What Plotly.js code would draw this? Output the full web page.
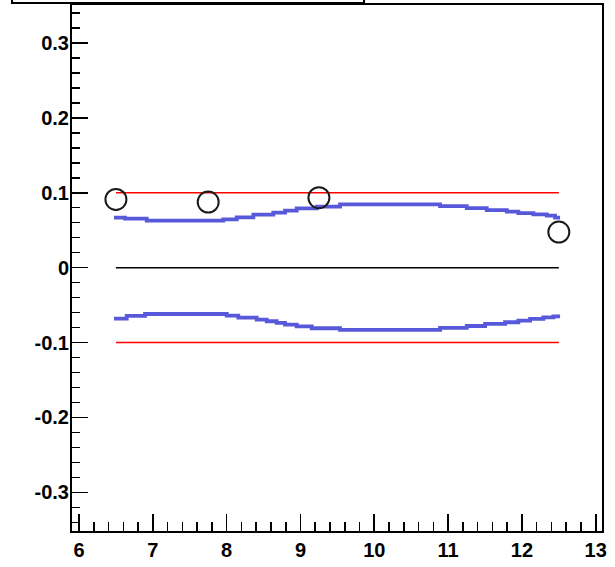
<!DOCTYPE html>
<html>
<head>
<meta charset="utf-8">
<script src="https://cdn.plot.ly/plotly-3.0.1.min.js"></script>
<style>html,body{margin:0;padding:0;background:#fff;}#chart{width:615px;height:567px;}</style>
</head>
<body>
<div id="chart"></div>
<script>
// Measured points (open circles)
const pointX = [6.5, 7.75, 9.25, 12.5];
const pointY = [0.091, 0.0875, 0.0933, 0.0475];

// Upper blue band (step line): start of each step, last x is the end
const upperX = [6.474, 6.623, 6.917, 7.955, 8.137, 8.362, 8.632, 8.791, 8.949, 9.220, 9.536, 10.891, 11.253, 11.524, 11.795, 11.952, 12.155, 12.337, 12.449, 12.517];
const upperY = [0.0667, 0.0653, 0.0627, 0.0644, 0.0671, 0.0707, 0.0733, 0.0760, 0.0791, 0.0813, 0.0844, 0.0821, 0.0795, 0.0768, 0.0747, 0.0728, 0.0711, 0.0693, 0.0667, 0.0667];

// Lower blue band
const lowerX = [6.474, 6.646, 6.894, 8.001, 8.158, 8.407, 8.543, 8.678, 8.791, 8.949, 9.152, 9.536, 10.891, 11.253, 11.501, 11.772, 11.952, 12.111, 12.291, 12.427, 12.517];
const lowerY = [-0.068, -0.0645, -0.0619, -0.064, -0.0667, -0.0693, -0.0716, -0.0738, -0.076, -0.0783, -0.0809, -0.0832, -0.0805, -0.0779, -0.0752, -0.0729, -0.0707, -0.0685, -0.0663, -0.065, -0.065];

// Reference lines
const refX = [6.5, 12.5];
const redUpper = [0.1, 0.1];
const redLower = [-0.1, -0.1];
const zeroLine = [0, 0];

// Tick labels
const xTickVals = [6, 7, 8, 9, 10, 11, 12, 13];
const xTickText = ["6", "7", "8", "9", "10", "11", "12", "13"];
const yTickVals = [-0.3, -0.2, -0.1, 0, 0.1, 0.2, 0.3];
const yTickText = ["-0.3", "-0.2", "-0.1", "0", "0.1", "0.2", "0.3"];

const blue = 'rgb(88,88,218)';
const traces = [
  {x: refX, y: redUpper, mode: 'lines', line: {color: '#ff0000', width: 1.5}, hoverinfo: 'skip'},
  {x: refX, y: redLower, mode: 'lines', line: {color: '#ff0000', width: 1.5}, hoverinfo: 'skip'},
  {x: refX, y: zeroLine, mode: 'lines', line: {color: '#000000', width: 1.5}, hoverinfo: 'skip'},
  {x: upperX, y: upperY, mode: 'lines', line: {color: blue, width: 3.8, shape: 'hv'}},
  {x: lowerX, y: lowerY, mode: 'lines', line: {color: blue, width: 3.8, shape: 'hv'}},
  {x: pointX, y: pointY, mode: 'markers', marker: {symbol: 'circle-open', size: 21, color: '#1a1a1a', line: {width: 2, color: '#1a1a1a'}}}
];

const tf = {family: 'Arial, Liberation Sans, sans-serif', size: 20, color: '#000', weight: 700};

const layout = {
  width: 615, height: 567,
  margin: {l: 72, r: 13, t: 5, b: 36, pad: 0, autoexpand: false},
  paper_bgcolor: '#fff', plot_bgcolor: '#fff',
  showlegend: false,
  font: {family: 'Arial, Liberation Sans, sans-serif', size: 20, color: '#000'},
  xaxis: {
    range: [5.905, 13.085], automargin: false,
    showgrid: false, zeroline: false,
    showline: true, linecolor: '#000', linewidth: 2, mirror: true,
    ticks: 'inside', ticklen: 17, tickwidth: 1.6, tickcolor: '#000',
    tickvals: xTickVals, ticktext: xTickText,
    tickfont: tf,
    ticklabelstandoff: 0,
    minor: {dtick: 0.2, tick0: 0, ticks: 'inside', ticklen: 9, tickwidth: 1.6, tickcolor: '#000', showgrid: false}
  },
  yaxis: {
    range: [-0.3515, 0.3505], automargin: false,
    showgrid: false, zeroline: false,
    showline: true, linecolor: '#000', linewidth: 2, mirror: true,
    ticks: 'inside', ticklen: 16, tickwidth: 1.6, tickcolor: '#000',
    tickvals: yTickVals, ticktext: yTickText,
    tickfont: tf,
    ticklabelstandoff: -3,
    minor: {dtick: 0.02, tick0: 0, ticks: 'inside', ticklen: 8, tickwidth: 1.6, tickcolor: '#000', showgrid: false}
  },
  shapes: [
    {type: 'rect', xref: 'paper', yref: 'paper', x0: -0.1132, x1: 0.551, y0: 1.0038, y1: 1.1,
     line: {color: '#000', width: 2}, fillcolor: '#fff', layer: 'above'}
  ]
};

Plotly.newPlot('chart', traces, layout, {displayModeBar: false, staticPlot: true});
</script>
</body>
</html>
